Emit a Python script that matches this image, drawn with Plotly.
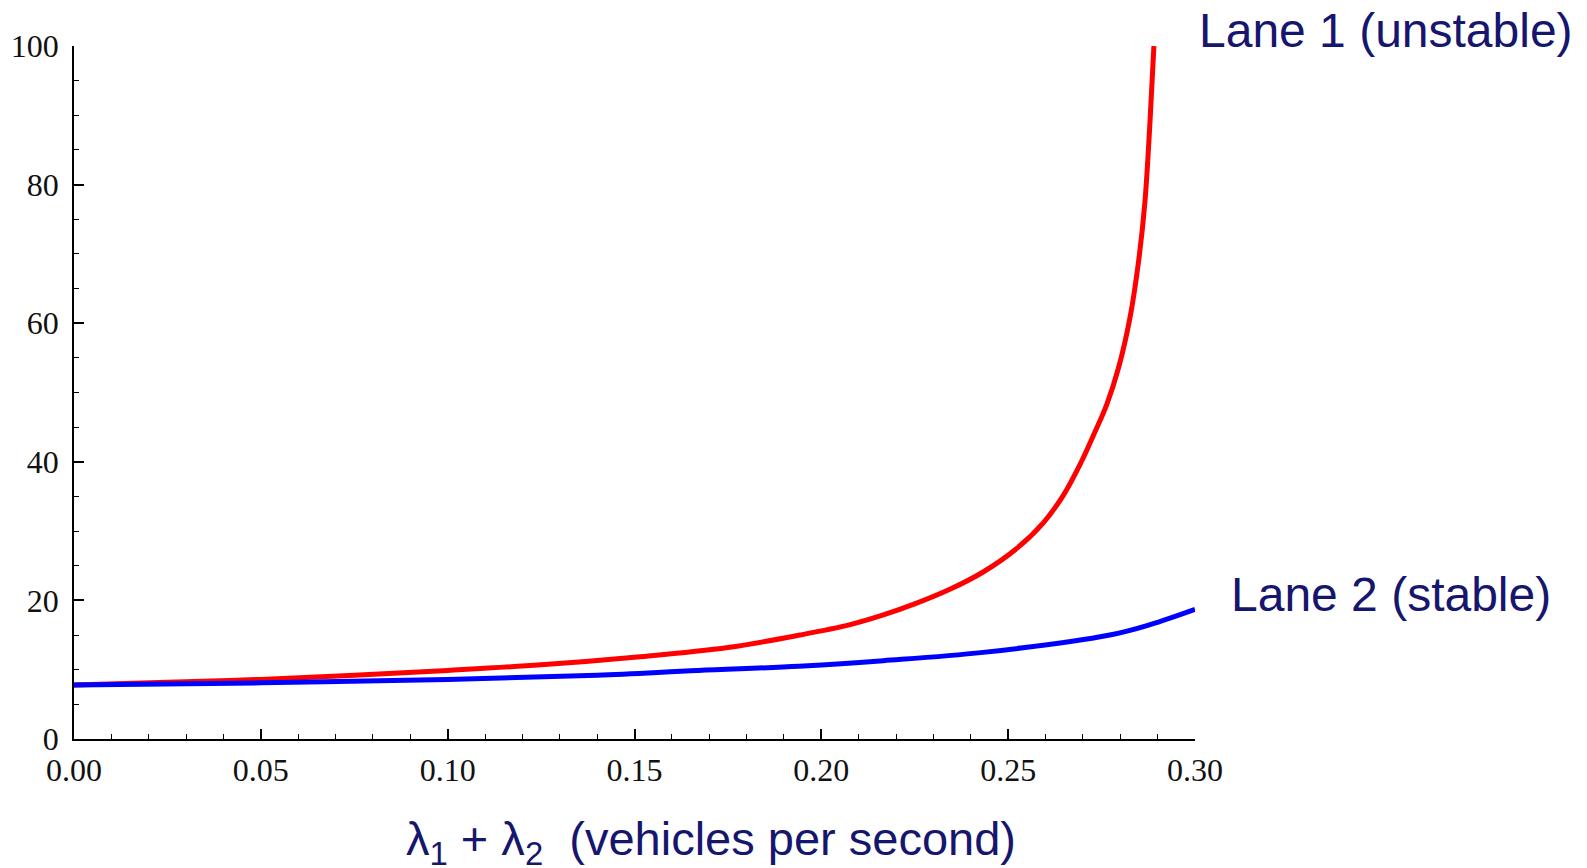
import plotly.graph_objects as go

# Data
lane1_x = [0.000, 0.025, 0.050, 0.075, 0.100, 0.125, 0.150, 0.175, 0.1943, 0.2077,
           0.2166, 0.2255, 0.2344, 0.2433, 0.2523, 0.2594, 0.2648, 0.2694, 0.2728,
           0.2764, 0.2795, 0.2826, 0.2848, 0.2866, 0.2880, 0.2890]
lane1_y = [7.8, 8.2, 8.6, 9.2, 9.9, 10.7, 11.8, 13.2, 15.0, 16.5,
           17.9, 19.6, 21.6, 24.1, 27.5, 31.2, 35.2, 39.8, 43.8,
           48.3, 53.5, 60.8, 68.5, 77.5, 89.5, 100.0]

lane2_x = [0.000, 0.050, 0.100, 0.140, 0.167, 0.194, 0.2166, 0.2433, 0.2772, 0.288, 0.300]
lane2_y = [7.8, 8.1, 8.6, 9.2, 9.9, 10.5, 11.3, 12.5, 15.0, 16.5, 18.7]

x_tickvals = [0.00, 0.05, 0.10, 0.15, 0.20, 0.25, 0.30]
x_ticktext = ["0.00", "0.05", "0.10", "0.15", "0.20", "0.25", "0.30"]
y_tickvals = [0, 20, 40, 60, 80, 100]
y_ticktext = ["0", "20", "40", "60", "80", "100"]

label_lane1 = "Lane 1 (unstable)"
label_lane2 = "Lane 2 (stable)"
x_title = "λ<sub>1</sub> + λ<sub>2</sub>  (vehicles per second)"

TEXT_COLOR = "#16166e"

fig = go.Figure()
fig.add_trace(go.Scatter(x=lane1_x, y=lane1_y, mode="lines",
                         line=dict(color="#ff0000", width=5, shape="spline", smoothing=1.0),
                         showlegend=False, hoverinfo="skip"))
fig.add_trace(go.Scatter(x=lane2_x, y=lane2_y, mode="lines",
                         line=dict(color="#0000ff", width=5, shape="spline", smoothing=1.0),
                         showlegend=False, hoverinfo="skip"))

tickfont = dict(family="Liberation Serif", size=32, color="#111111")

fig.update_xaxes(range=[0, 0.30], showgrid=False, zeroline=False, automargin=False,
                 showline=True, linecolor="black", linewidth=1.6,
                 ticks="inside", ticklen=10, tickwidth=1.5, tickcolor="black",
                 tickmode="array", tickvals=x_tickvals, ticktext=x_ticktext,
                 tickfont=tickfont, ticklabelstandoff=2,
                 minor=dict(ticks="inside", ticklen=5, tickwidth=1.3, tickcolor="black",
                            dtick=0.01, showgrid=False))
fig.update_yaxes(range=[0, 100], showgrid=False, zeroline=False, automargin=False,
                 showline=True, linecolor="black", linewidth=1.6,
                 ticks="inside", ticklen=10, tickwidth=1.5, tickcolor="black",
                 tickmode="array", tickvals=y_tickvals, ticktext=y_ticktext,
                 tickfont=tickfont, ticklabelstandoff=7,
                 minor=dict(ticks="inside", ticklen=5, tickwidth=1.3, tickcolor="black",
                            dtick=5, showgrid=False))

annfont = dict(family="Liberation Sans, Arial, sans-serif", size=48, color=TEXT_COLOR)
fig.add_annotation(text=label_lane1, xref="paper", yref="paper",
                   x=1.0018, y=1.022, xanchor="left", yanchor="middle",
                   showarrow=False, font=annfont)
fig.add_annotation(text=label_lane2, xref="paper", yref="paper",
                   x=1.030, y=0.208, xanchor="left", yanchor="middle",
                   showarrow=False, font=annfont)
fig.add_annotation(text=x_title, xref="paper", yref="paper",
                   x=0.5685, y=-0.149, xanchor="center", yanchor="middle",
                   showarrow=False,
                   font=dict(family="Liberation Sans, Arial, sans-serif", size=47, color=TEXT_COLOR))

# page body has an 8px margin: figure is sized so the page fills 1587x868
fig.update_layout(width=1579, height=860,
                  margin=dict(l=66, r=392, t=38, b=129, autoexpand=False),
                  plot_bgcolor="white", paper_bgcolor="white")

fig.write_html("out.html")
